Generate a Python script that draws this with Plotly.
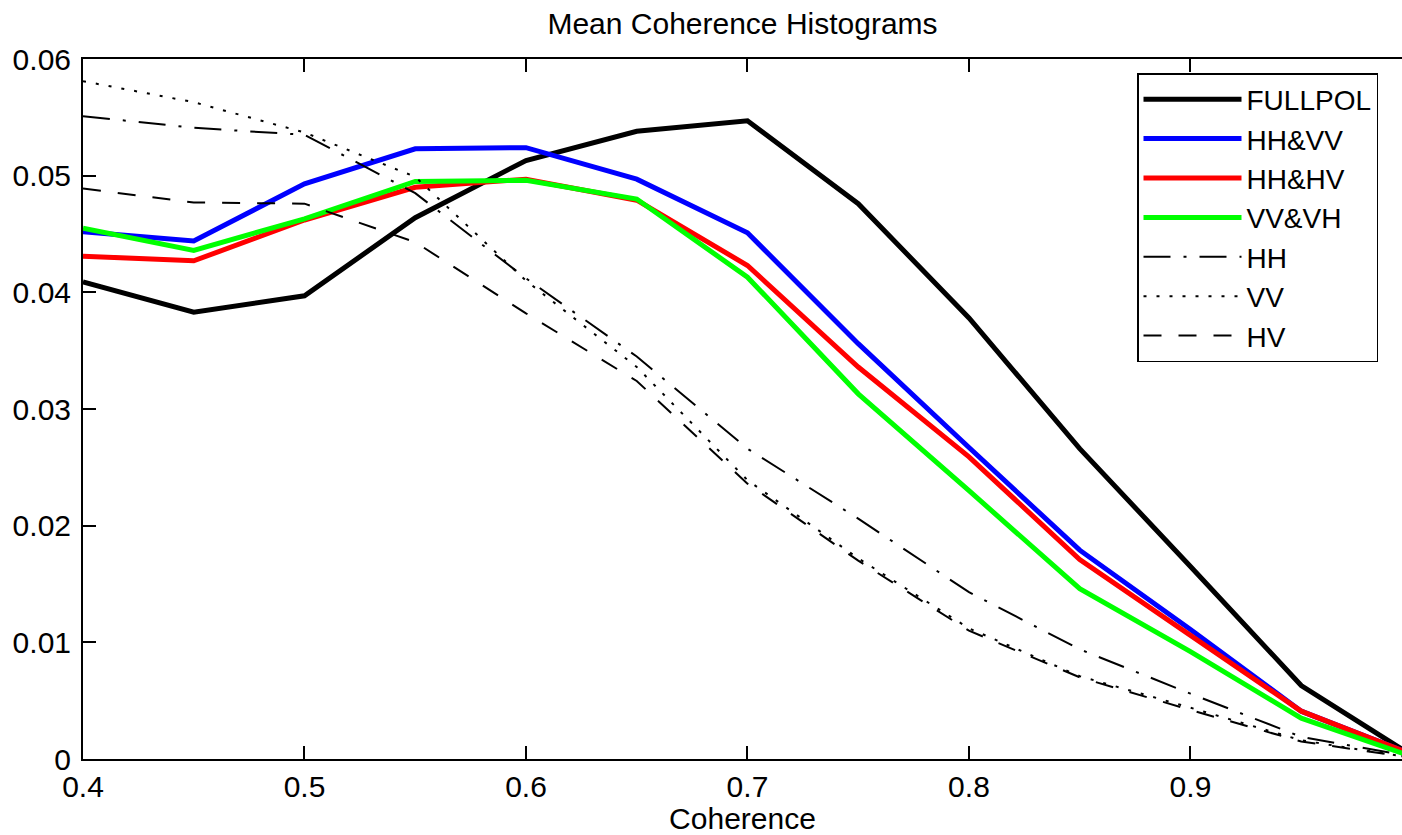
import plotly.graph_objects as go

coherence = [0.40, 0.45, 0.50, 0.55, 0.60, 0.65, 0.70, 0.75, 0.80, 0.85, 0.90, 0.95, 1.00]

fullpol = [0.0409, 0.0383, 0.0397, 0.0464, 0.0513, 0.0538, 0.0547, 0.0476, 0.0378, 0.0266, 0.0165, 0.0063, 0.0003]
hh_vv   = [0.0452, 0.0444, 0.0493, 0.0523, 0.0524, 0.0497, 0.0451, 0.0356, 0.0267, 0.0179, 0.0111, 0.0041, 0.0004]
hh_hv   = [0.0431, 0.0427, 0.0462, 0.0490, 0.0497, 0.0479, 0.0423, 0.0336, 0.0259, 0.0171, 0.0106, 0.0041, 0.0004]
vv_vh   = [0.0455, 0.0436, 0.0463, 0.0495, 0.0496, 0.0480, 0.0413, 0.0313, 0.0230, 0.0146, 0.0092, 0.0035, 0.0002]
hh      = [0.0551, 0.0541, 0.0535, 0.0485, 0.0412, 0.0345, 0.0266, 0.0206, 0.0143, 0.0094, 0.0056, 0.0019, 0.0002]
vv      = [0.0581, 0.0563, 0.0537, 0.0499, 0.0410, 0.0336, 0.0239, 0.0172, 0.0112, 0.0071, 0.0044, 0.0016, 0.0001]
hv      = [0.0489, 0.0477, 0.0476, 0.0443, 0.0382, 0.0324, 0.0236, 0.0170, 0.0110, 0.0070, 0.0042, 0.0015, 0.0001]

series_names = ["FULLPOL", "HH&VV", "HH&HV", "VV&VH", "HH", "VV", "HV"]
series_values = [fullpol, hh_vv, hh_hv, vv_vh, hh, vv, hv]

x_ticks = [0.4, 0.5, 0.6, 0.7, 0.8, 0.9]
x_tick_labels = ["0.4", "0.5", "0.6", "0.7", "0.8", "0.9"]
y_ticks = [0, 0.01, 0.02, 0.03, 0.04, 0.05, 0.06]
y_tick_labels = ["0", "0.01", "0.02", "0.03", "0.04", "0.05", "0.06"]

styles = [
    dict(color="#000000", width=5, dash="solid"),
    dict(color="#0000ff", width=5, dash="solid"),
    dict(color="#ff0000", width=5, dash="solid"),
    dict(color="#00ff00", width=5, dash="solid"),
    dict(color="#000000", width=2, dash="27px,13px,3px,13px"),
    dict(color="#000000", width=2, dash="3px,10px"),
    dict(color="#000000", width=2, dash="18px,17px"),
]

FONT = "Liberation Sans, Arial, sans-serif"

fig = go.Figure()
for name, vals, st in zip(series_names, series_values, styles):
    fig.add_trace(go.Scatter(x=coherence, y=vals, mode="lines", name=name,
                             line=dict(color=st["color"], width=st["width"], dash=st["dash"])))

fig.update_layout(
    width=1402, height=835,
    margin=dict(l=83, r=0, t=59, b=76),
    paper_bgcolor="white", plot_bgcolor="white",
    font=dict(family=FONT, size=30, color="black"),
    title=dict(text="Mean Coherence Histograms", x=0.5, xref="paper", xanchor="center",
               y=1 - 23 / 835, yref="container", yanchor="middle",
               font=dict(family=FONT, size=30, color="black")),
    showlegend=True,
    legend=dict(x=(1137 - 83) / 1319, y=(759 - 73) / 700, xanchor="left", yanchor="top",
                bordercolor="black", borderwidth=1.5, bgcolor="white",
                font=dict(family=FONT, size=28, color="black"),
                itemwidth=98, tracegroupgap=0),
)
fig.update_xaxes(range=[0.4, 0.9955], tickvals=x_ticks, ticktext=x_tick_labels,
                 ticks="inside", ticklen=13, tickwidth=1.5, tickcolor="black",
                 showline=True, linecolor="black", linewidth=2, mirror="ticks",
                 showgrid=False, zeroline=False, automargin=False,
                 title=dict(text="Coherence", standoff=5, font=dict(size=30)))
fig.update_yaxes(range=[0, 0.06], tickvals=y_ticks, ticktext=y_tick_labels,
                 ticks="inside", ticklen=13, tickwidth=1.5, tickcolor="black",
                 showline=True, linecolor="black", linewidth=2, mirror=False,
                 showgrid=False, zeroline=False, automargin=False, ticklabelstandoff=4)

fig.write_html("out.html",
               config={"displayModeBar": False},
               post_script="document.body.style.margin='0';document.body.style.padding='0';"
                           "document.body.style.overflow='hidden';")
